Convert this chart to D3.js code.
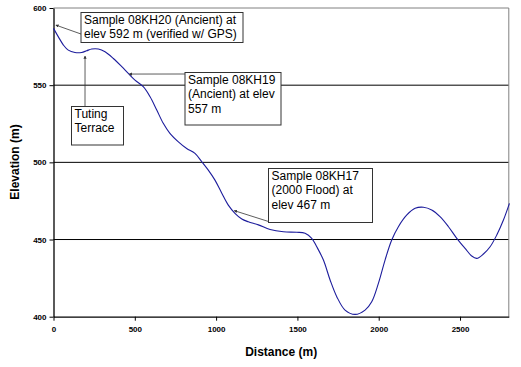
<!DOCTYPE html>
<html>
<head>
<script src="https://d3js.org/d3.v7.min.js"></script>
<style>
  body { margin: 0; background: #fff; font-family: Arial, 'Liberation Sans', sans-serif; }
  .tick text { font-weight: bold; font-size: 8px; }
</style>
</head>
<body>
<svg id="svg" width="521" height="367"></svg>
<script>
// profile: distance (m) and elevation (m)
var distance = [0, 30, 61, 91, 132, 173, 204, 235, 276, 317, 368, 420, 460, 501, 552, 594, 635, 675, 716, 768, 819, 870, 912, 952, 993,
  1035, 1075, 1116, 1158, 1198, 1260, 1332, 1414, 1496, 1547, 1588, 1619, 1660, 1701, 1742, 1793, 1855, 1916, 1957, 1998,
  2039, 2080, 2121, 2173, 2224, 2275, 2326, 2377, 2429, 2480, 2531, 2572, 2603, 2644, 2685, 2726, 2767, 2804];
var elevation = [586.8, 581.3, 576, 572.7, 571.2, 571.2, 572.3, 573.4, 573.4, 571.6, 567.3, 562, 557.6, 553.3, 549, 542.5, 533.9, 525.3, 518.8, 513.3, 509, 505.8, 500.4, 495, 488.5,
  480, 472.3, 467, 463.3, 461.5, 459.5, 456.5, 455, 454.7, 454, 450.8, 445.3, 436.7, 423.8, 413, 404.3, 401.5, 404.3, 409.7, 421.6,
  436.7, 449.7, 458.3, 465.9, 470.2, 470.9, 469.1, 464.8, 458.3, 450.8, 444.3, 439.3, 437.8, 440.6, 445.3, 452.9, 462.6, 473.4];

var xTicks = [0, 500, 1000, 1500, 2000, 2500];
var yTicks = [400, 450, 500, 550, 600];

// callouts: text lines and the point on the profile they refer to
var noteText = [
  ["Sample 08KH20 (Ancient) at", "elev 592 m (verified w/ GPS)"],
  ["Sample 08KH19", "(Ancient) at elev", "557 m"],
  ["Sample 08KH17", "(2000 Flood) at", "elev 467 m"],
  ["Tuting", "Terrace"]
];
var noteDist = [15, 466, 1112, 194];
var noteElev = [588.9, 557.2, 468.7, 568.8];

var svg = d3.select("svg");
var pLeft = 53.5, pRight = 508.8, pTop = 8, pBottom = 316.7;

var x = d3.scaleLinear().domain([0, 2800]).range([pLeft, pRight]);
var y = d3.scaleLinear().domain([400, 600]).range([pBottom, pTop]);

// gridlines
svg.append("g").selectAll("line").data(yTicks.filter(function(v){ return v > 400 && v < 600; }))
  .enter().append("line")
  .attr("x1", pLeft).attr("x2", pRight)
  .attr("y1", function(d){ return y(d); }).attr("y2", function(d){ return y(d); })
  .attr("stroke", "#000").attr("stroke-width", 1);

// plot border top/right (gray)
svg.append("path")
  .attr("d", "M" + pLeft + "," + y(600) + "H" + pRight + "V" + pBottom)
  .attr("fill", "none").attr("stroke", "#808080").attr("stroke-width", 1);

// axes
var xAxis = d3.axisBottom(x).tickValues(xTicks).tickFormat(d3.format("d")).tickSize(4).tickSizeOuter(0).tickPadding(6);
var yAxis = d3.axisLeft(y).tickValues(yTicks).tickFormat(d3.format("d")).tickSize(4).tickSizeOuter(0).tickPadding(3);
var gx = svg.append("g").attr("transform", "translate(0," + pBottom + ")").call(xAxis);
var gy = svg.append("g").attr("transform", "translate(" + pLeft + ",0)").call(yAxis);
[gx, gy].forEach(function(g){
  g.select(".domain").attr("stroke", "#000").attr("stroke-width", 1.3);
  g.selectAll(".tick line").attr("stroke", "#000");
  g.selectAll(".tick text").attr("fill", "#000").style("font-family", "Arial, 'Liberation Sans', sans-serif");
});

// profile line
var line = d3.line()
  .x(function(d){ return x(d[0]); })
  .y(function(d){ return y(d[1]); })
  .curve(d3.curveCatmullRom.alpha(0.5));
svg.append("path")
  .datum(d3.zip(distance, elevation))
  .attr("d", line)
  .attr("fill", "none")
  .attr("stroke", "#1c1c9c")
  .attr("stroke-width", 1.1);

// axis titles
svg.append("text").attr("x", x(1400)).attr("y", 356)
  .attr("text-anchor", "middle").attr("font-weight", "bold").attr("font-size", 12)
  .text("Distance (m)");
svg.append("text").attr("transform", "translate(19,162) rotate(-90)")
  .attr("text-anchor", "middle").attr("font-weight", "bold").attr("font-size", 12)
  .text("Elevation (m)");

// callout boxes
var boxes = [
  {x: 81, y: 12.5, w: 162, h: 30, lx: 81, ly: 34},
  {x: 185, y: 72.5, w: 96, h: 52.5, lx: 185, ly: 74},
  {x: 268.5, y: 168.5, w: 104, h: 54, lx: 268.5, ly: 221.5},
  {x: 71.5, y: 106.5, w: 52, h: 38.5, lx: 85, ly: 106.5}
];

svg.append("defs").append("marker")
  .attr("id", "arr").attr("viewBox", "0 0 6 6").attr("refX", 5).attr("refY", 3)
  .attr("markerWidth", 4).attr("markerHeight", 4).attr("orient", "auto")
  .append("path").attr("d", "M0,0L6,3L0,6Z").attr("fill", "#333");

noteText.forEach(function(lines, i){
  var b = boxes[i];
  svg.append("line")
    .attr("x1", b.lx).attr("y1", b.ly)
    .attr("x2", x(noteDist[i])).attr("y2", y(noteElev[i]))
    .attr("stroke", "#333").attr("stroke-width", 0.8)
    .attr("marker-end", "url(#arr)");
  svg.append("rect")
    .attr("x", b.x).attr("y", b.y).attr("width", b.w).attr("height", b.h)
    .attr("fill", "#fff").attr("stroke", "#333").attr("stroke-width", 1);
  var t = svg.append("text").attr("font-size", 12).attr("fill", "#000");
  lines.forEach(function(s, j){
    t.append("tspan").attr("x", b.x + 3).attr("y", b.y + 11.5 + j * 14.3).text(s);
  });
});
</script>
</body>
</html>
